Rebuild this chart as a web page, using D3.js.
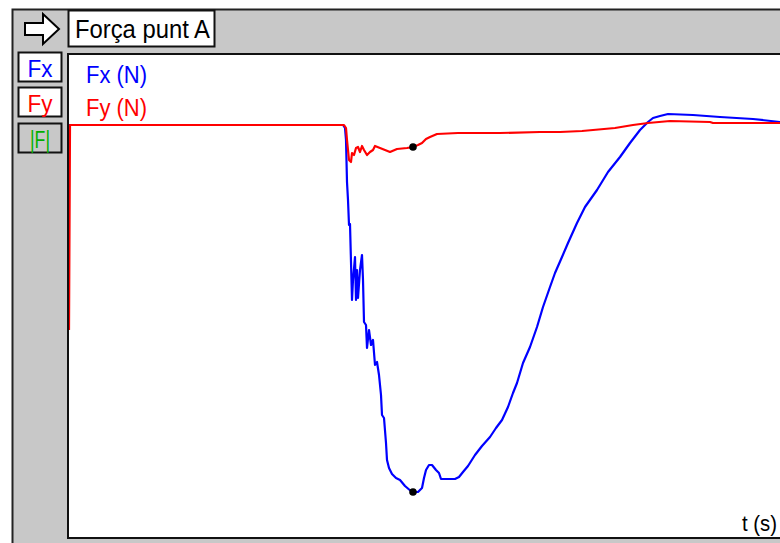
<!DOCTYPE html>
<html>
<head>
<meta charset="utf-8">
<script src="https://cdn.jsdelivr.net/npm/d3@7"></script>
<style>
  html, body { margin: 0; padding: 0; background: #ffffff; }
  svg { display: block; }
  text { font-family: "Liberation Sans", Arial, sans-serif; }
</style>
</head>
<body>
<div id="chart"></div>
<script>
// ---- data (time in s, force in N) ----
const title = "Força punt A";
const xLabel = "t (s)";
const seriesNames = ["Fx (N)", "Fy (N)"];
const buttonLabels = ["Fx", "Fy", "|F|"];

const fxT = [0.00, 0.01, 2.74, 2.76, 2.77, 2.78, 2.79, 2.80, 2.81, 2.82, 2.83, 2.84, 2.86, 2.87, 2.88, 2.89, 2.91, 2.93, 2.94, 2.95, 2.97, 2.98, 3.00, 3.02, 3.04, 3.06, 3.08, 3.10, 3.12, 3.13, 3.15, 3.17, 3.18, 3.20, 3.23, 3.27, 3.31, 3.36, 3.43, 3.49, 3.53, 3.55, 3.57, 3.60, 3.63, 3.67, 3.70, 3.72, 3.79, 3.86, 3.90, 3.94, 3.99, 4.06, 4.13, 4.21, 4.27, 4.33, 4.39, 4.44, 4.48, 4.54, 4.61, 4.68, 4.74, 4.81, 4.86, 4.93, 4.99, 5.08, 5.16, 5.28, 5.39, 5.51, 5.61, 5.71, 5.79, 5.84, 5.91, 5.99, 6.24, 6.51, 6.84, 7.11];
const fxV = [0, 0, 0, -3, -15, -57, -75, -100, -99, -137, -175, -155, -132, -175, -145, -173, -145, -130, -155, -197, -200, -223, -205, -220, -215, -240, -237, -250, -270, -290, -293, -318, -335, -343, -349, -353, -355, -361, -367, -367, -363, -353, -345, -340, -340, -345, -348, -354, -354, -354, -352, -347, -341, -330, -321, -312, -303, -295, -282, -268, -258, -238, -222, -202, -182, -162, -148, -132, -118, -98, -82, -65, -47, -32, -18, -5, 3, 7, 9, 11, 10, 8, 6, 3];

const fyT = [0.00, 0.01, 2.75, 2.77, 2.78, 2.80, 2.82, 2.83, 2.85, 2.87, 2.89, 2.91, 2.93, 2.95, 2.98, 3.01, 3.04, 3.06, 3.11, 3.16, 3.21, 3.28, 3.38, 3.44, 3.49, 3.53, 3.57, 3.61, 3.68, 3.89, 4.31, 4.71, 4.91, 5.13, 5.46, 5.64, 5.79, 6.01, 6.41, 6.44, 7.11];
const fyV = [-205, 0, 0, -3, -15, -35, -37, -28, -30, -23, -22, -27, -21, -25, -30, -27, -25, -21, -23, -25, -27, -24, -23, -22, -20, -18, -14, -12, -9, -8, -8, -7, -7, -6, -3, 0, 2, 4, 3, 2, 2];

// marker (cursor) time
const cursorT = 3.44;

const W = 780, H = 543;
const plot = { left: 69, right: 780, top: 55, bottom: 537 };

const svg = d3.select("#chart").append("svg")
  .attr("width", W).attr("height", H);

// outer gray panel
svg.append("rect").attr("x", 12.5).attr("y", 9.5).attr("width", W).attr("height", H)
  .attr("fill", "#c8c8c8").attr("stroke", "#222").attr("stroke-width", 2);

// plot area
svg.append("rect").attr("x", plot.left - 1).attr("y", plot.top - 1)
  .attr("width", plot.right - plot.left + 5).attr("height", plot.bottom - plot.top + 2)
  .attr("fill", "#ffffff").attr("stroke", "#111").attr("stroke-width", 2);

// title box
svg.append("rect").attr("x", 68.5).attr("y", 10.5).attr("width", 146).attr("height", 36)
  .attr("fill", "#ffffff").attr("stroke", "#111").attr("stroke-width", 2);
svg.append("text").attr("x", 75).attr("y", 38).attr("font-size", 25)
  .attr("textLength", 135).attr("lengthAdjust", "spacingAndGlyphs")
  .attr("fill", "#000").text(title);

// arrow icon
const arrowPts = [[25,23],[43,23],[43,14],[59,29],[43,44],[43,35],[25,35]];
svg.append("path").attr("d", d3.line()(arrowPts) + "Z")
  .attr("fill", "#ffffff").attr("stroke", "#000").attr("stroke-width", 2)
  .attr("stroke-linejoin", "miter");

// side buttons
const btnY = [52, 87, 123];
const btnColors = ["#0000ff", "#ff0000", "#00b000"];
const btnFill = ["#ffffff", "#ffffff", "#c8c8c8"];
buttonLabels.forEach((lab, i) => {
  svg.append("rect").attr("x", 18.5).attr("y", btnY[i] + 0.5).attr("width", 43).attr("height", 29)
    .attr("fill", btnFill[i]).attr("stroke", "#111").attr("stroke-width", 2);
  svg.append("text").attr("x", 40).attr("y", btnY[i] + 25).attr("text-anchor", "middle")
    .attr("font-size", 23).attr("fill", btnColors[i])
    .attr("textLength", i === 2 ? 20 : 25).attr("lengthAdjust", "spacingAndGlyphs")
    .text(lab);
});

// scales
const x = d3.scaleLinear().domain([0, 7.11]).range([plot.left, plot.right]);
const y = d3.scaleLinear().domain([-412, 70]).range([plot.bottom, plot.top]);

svg.append("clipPath").attr("id", "clip").append("rect")
  .attr("x", plot.left).attr("y", plot.top)
  .attr("width", plot.right - plot.left).attr("height", plot.bottom - plot.top);

const g = svg.append("g").attr("clip-path", "url(#clip)");
const line = d3.line().x(d => x(d[0])).y(d => y(d[1]));

const fx = fxT.map((t, i) => [t, fxV[i]]);
const fy = fyT.map((t, i) => [t, fyV[i]]);

g.append("path").datum(fx).attr("d", line)
  .attr("fill", "none").attr("stroke", "#0000ff").attr("stroke-width", 2.2)
  .attr("stroke-linejoin", "round");
g.append("path").datum(fy).attr("d", line)
  .attr("fill", "none").attr("stroke", "#ff0000").attr("stroke-width", 2.2)
  .attr("stroke-linejoin", "round");

// cursor markers
function interp(ts, vs, t) {
  const i = d3.bisectLeft(ts, t);
  if (i <= 0) return vs[0];
  if (i >= ts.length) return vs[vs.length - 1];
  const f = (t - ts[i - 1]) / (ts[i] - ts[i - 1]);
  return vs[i - 1] + f * (vs[i] - vs[i - 1]);
}
[[fxT, fxV], [fyT, fyV]].forEach(([ts, vs]) => {
  g.append("circle").attr("cx", x(cursorT)).attr("cy", y(interp(ts, vs, cursorT)))
    .attr("r", 3.8).attr("fill", "#000");
});

// legend labels
const legendColors = ["#0000ff", "#ff0000"];
seriesNames.forEach((n, i) => {
  svg.append("text").attr("x", 86).attr("y", 83 + i * 33).attr("font-size", 23)
    .attr("textLength", 61).attr("lengthAdjust", "spacingAndGlyphs")
    .attr("fill", legendColors[i]).text(n);
});

// x label
svg.append("text").attr("x", 742).attr("y", 531).attr("font-size", 22)
  .attr("textLength", 35).attr("lengthAdjust", "spacingAndGlyphs")
  .attr("fill", "#000").text(xLabel);
</script>
</body>
</html>
